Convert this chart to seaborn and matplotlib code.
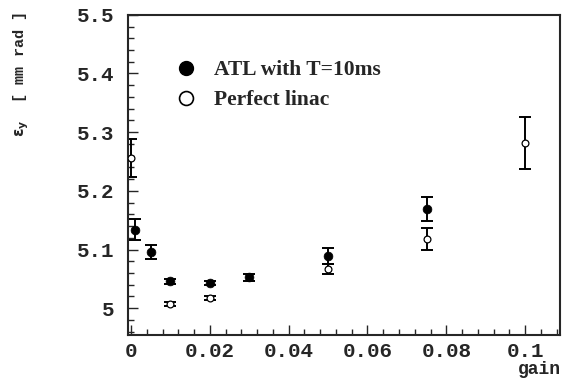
import matplotlib
matplotlib.use("Agg")
import matplotlib.pyplot as plt
from matplotlib.ticker import MultipleLocator
from matplotlib.lines import Line2D
import seaborn as sns
import pandas as pd

# ATL with T=10ms
atl_gain = [0.001, 0.005, 0.01, 0.02, 0.03, 0.05, 0.075]
atl_eps = [5.134, 5.096, 5.046, 5.043, 5.053, 5.089, 5.169]
atl_err = [0.018, 0.012, 0.004, 0.004, 0.006, 0.014, 0.020]

# Perfect linac
perf_gain = [0.0, 0.01, 0.02, 0.05, 0.075, 0.1]
perf_eps = [5.256, 5.007, 5.017, 5.067, 5.118, 5.282]
perf_err = [0.032, 0.003, 0.003, 0.008, 0.019, 0.044]

x_ticks = [0, 0.02, 0.04, 0.06, 0.08, 0.1]
x_ticklabels = ["0", "0.02", "0.04", "0.06", "0.08", "0.1"]
y_ticks = [5.0, 5.1, 5.2, 5.3, 5.4, 5.5]
y_ticklabels = ["5", "5.1", "5.2", "5.3", "5.4", "5.5"]

sns.set_style("ticks")
mono = "Liberation Mono"

fig = plt.figure(figsize=(5.71, 3.80), dpi=100)
ax = fig.add_axes([0.224, 0.118, 0.757, 0.843])

df_atl = pd.DataFrame({"gain": atl_gain, "eps": atl_eps})
df_perf = pd.DataFrame({"gain": perf_gain, "eps": perf_eps})

ax.errorbar(atl_gain, atl_eps, yerr=atl_err, fmt="none", ecolor="black",
            elinewidth=1.4, capsize=4, capthick=1.4, zorder=2)
ax.errorbar(perf_gain, perf_eps, yerr=perf_err, fmt="none", ecolor="black",
            elinewidth=1.4, capsize=4, capthick=1.4, zorder=2)
sns.scatterplot(data=df_perf, x="gain", y="eps", ax=ax, marker="o", s=24,
                facecolor="white", edgecolor="black", linewidth=0.9, zorder=3)
sns.scatterplot(data=df_atl, x="gain", y="eps", ax=ax, marker="o", s=40,
                color="black", edgecolor="black", zorder=4)

ax.set_xlim(-0.0008, 0.1089)
ax.set_ylim(4.954, 5.5)
ax.set_xticks(x_ticks)
ax.set_xticklabels(x_ticklabels)
ax.set_yticks(y_ticks)
ax.set_yticklabels(y_ticklabels)
ax.xaxis.set_minor_locator(MultipleLocator(0.004))
ax.yaxis.set_minor_locator(MultipleLocator(0.02))
ax.tick_params(axis="both", which="major", direction="in", length=7, width=1,
               labelsize=15)
ax.tick_params(axis="both", which="minor", direction="in", length=4, width=1)
ax.tick_params(axis="x", pad=5)
ax.tick_params(axis="y", pad=10)
for lab in ax.get_xticklabels() + ax.get_yticklabels():
    lab.set_fontfamily(mono)
    lab.set_fontweight("bold")
for sp in ax.spines.values():
    sp.set_visible(True)
    sp.set_linewidth(1.5)
ax.set_xlabel("")
ax.set_ylabel("")

fig.text(0.945, 0.005, "gain", fontfamily=mono, fontweight="bold",
         fontsize=13, ha="center", va="bottom")
fig.text(0.038, 0.805, r"$\mathbf{\varepsilon_y}$  [ mm rad ]", fontfamily=mono,
         fontweight="bold", fontsize=11, rotation=90, ha="center", va="center")

handles = [
    Line2D([], [], marker="o", linestyle="none", markerfacecolor="black",
           markeredgecolor="black", markersize=10),
    Line2D([], [], marker="o", linestyle="none", markerfacecolor="white",
           markeredgecolor="black", markeredgewidth=1.2, markersize=10),
]
leg = ax.legend(handles, ["ATL with T=10ms", "Perfect linac"],
                loc="upper left", bbox_to_anchor=(0.065, 0.885), frameon=False,
                prop={"family": "Liberation Serif", "weight": "bold", "size": 15.5},
                handletextpad=0.3, labelspacing=0.45, borderaxespad=0)

fig.savefig("out.png", dpi=100)
